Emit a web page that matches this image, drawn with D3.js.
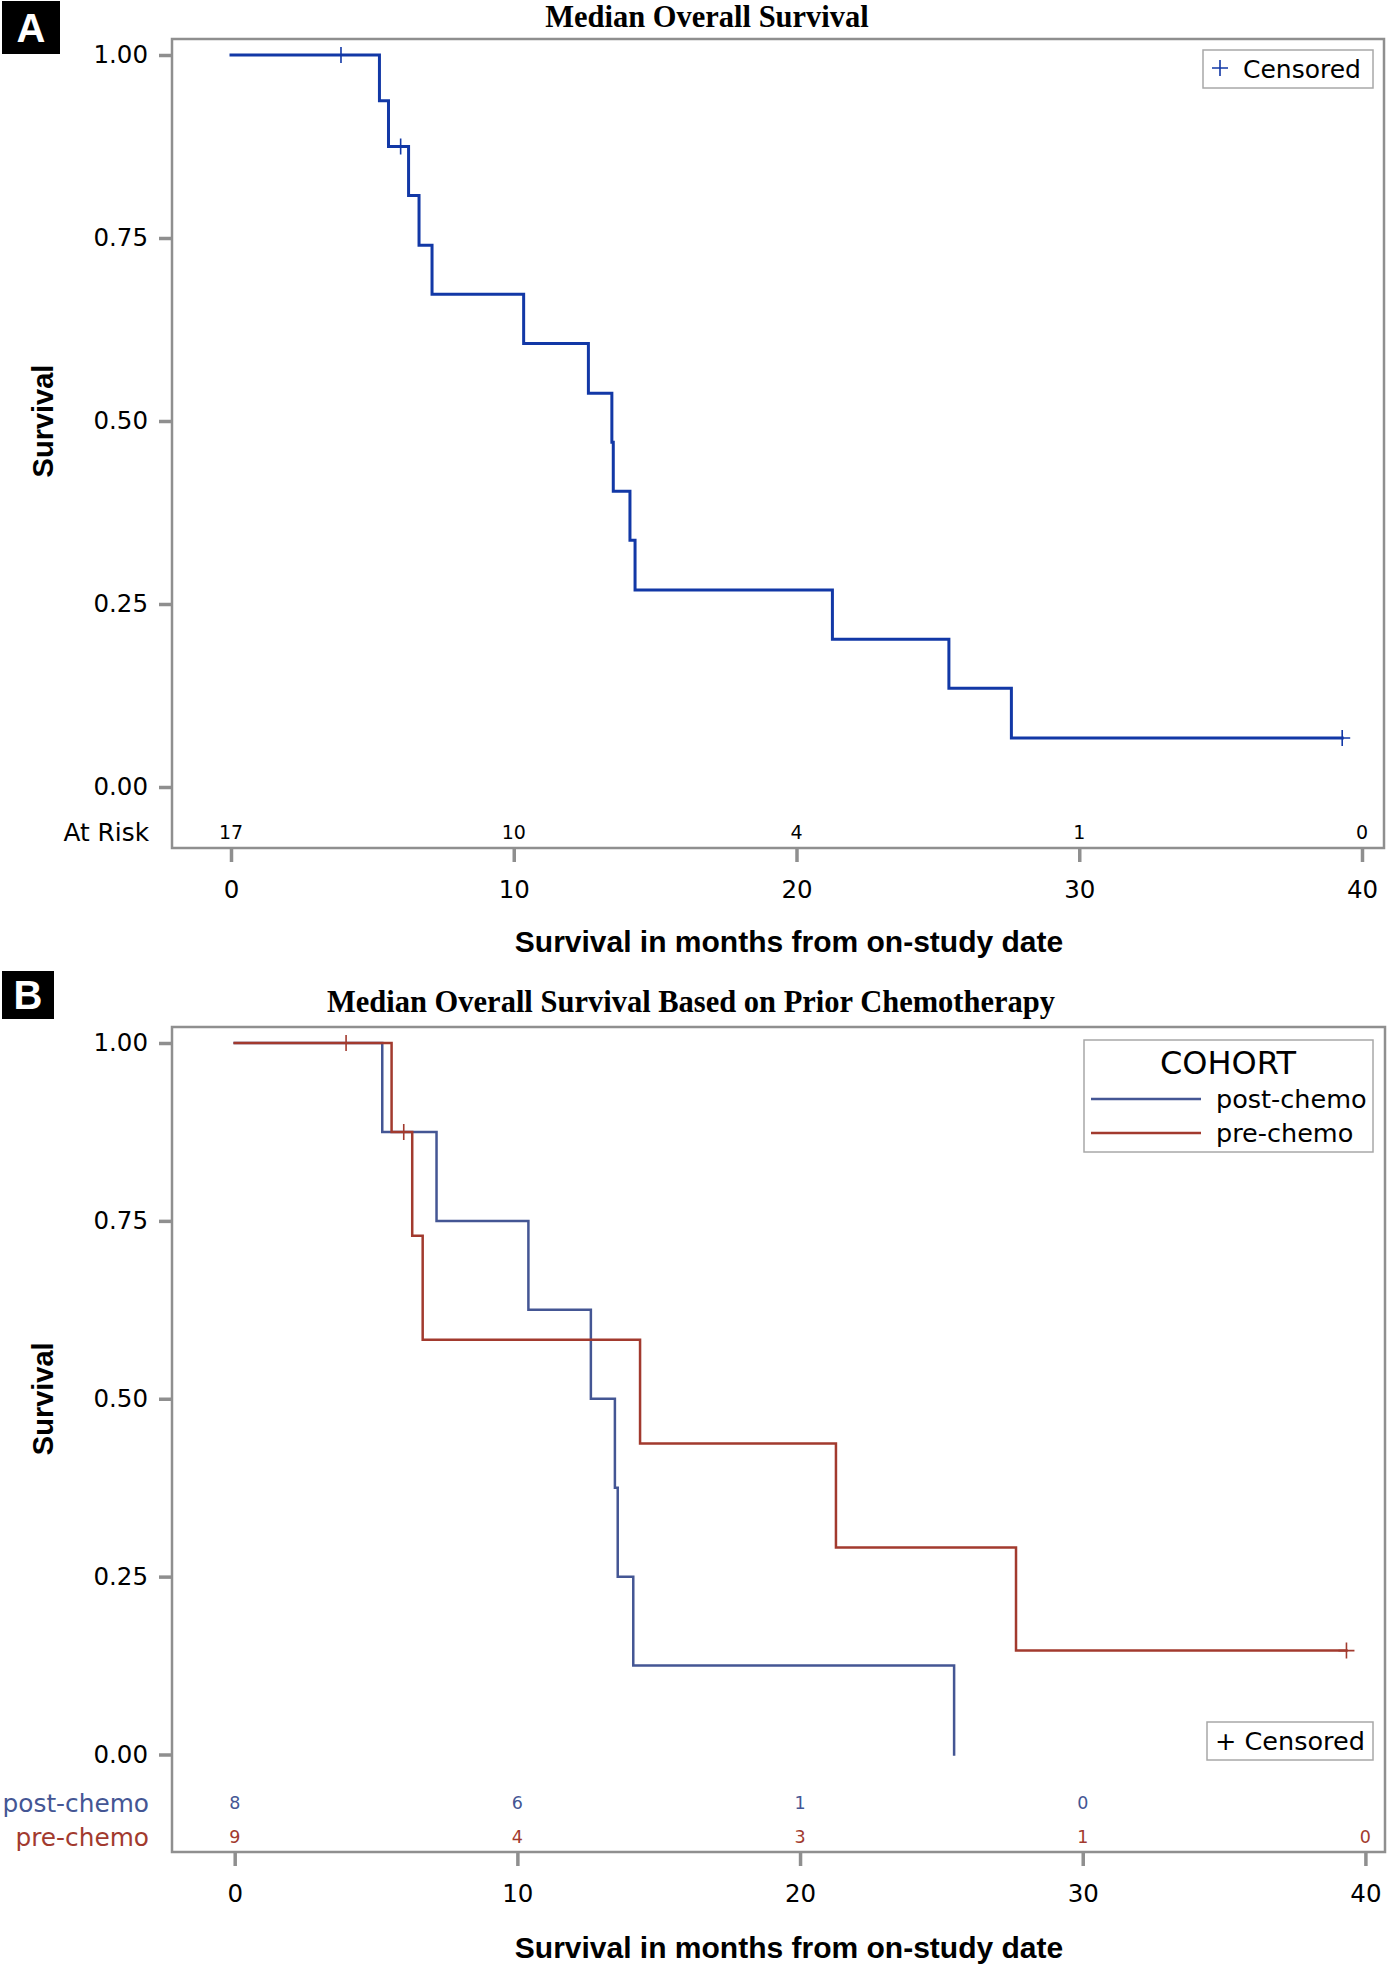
<!DOCTYPE html>
<html>
<head>
<meta charset="utf-8">
<script src="https://cdn.jsdelivr.net/npm/d3@7"></script>
<style>
  html, body { margin: 0; padding: 0; background: #fff; }
  svg { display: block; }
</style>
</head>
<body>
<svg id="chart" width="1388" height="1968"></svg>
<script>
// ---------------- DATA ----------------
const xTicks = [0, 10, 20, 30, 40];
const yTicks = [0, 0.25, 0.5, 0.75, 1.0];
const yTickLabels = ["0.00", "0.25", "0.50", "0.75", "1.00"];

// Panel A: overall
const timesA = [0, 5.25, 5.57, 6.28, 6.65, 7.11, 10.35, 12.64, 13.47, 13.52, 14.11, 14.29, 21.27, 25.39, 27.6];
const survA  = [1, 0.9375, 0.875, 0.808, 0.740, 0.673, 0.606, 0.538, 0.471, 0.404, 0.337, 0.269, 0.202, 0.135, 0.067];
const endA = 39.3;
const censorTimesA = [3.89, 6.0, 39.3];
const censorSurvA  = [1, 0.875, 0.067];
const atRiskA = [17, 10, 4, 1, 0];

// Panel B: by cohort
const cohorts = ["post-chemo", "pre-chemo"];
const timesPost = [0, 5.22, 7.14, 10.39, 12.6, 13.45, 13.55, 14.1, 25.45];
const survPost  = [1, 0.875, 0.75, 0.625, 0.5, 0.375, 0.25, 0.125, 0];
const endPost = 25.45;
const censorTimesPost = [];
const censorSurvPost  = [];
const atRiskPost = [8, 6, 1, 0];

const timesPre = [0, 5.55, 6.28, 6.65, 14.34, 21.27, 27.64];
const survPre  = [1, 0.875, 0.729, 0.583, 0.437, 0.291, 0.146];
const endPre = 39.33;
const censorTimesPre = [3.94, 5.98, 39.33];
const censorSurvPre  = [1, 0.875, 0.146];
const atRiskPre = [9, 4, 3, 1, 0];

// ---------------- STYLE ----------------
const colA = "#1238a6";
const colPost = "#445694";
const colPre = "#a23a2e";
const frameCol = "#8f8f8f";
const sans = "'DejaVu Sans', Verdana, sans-serif";
const arial = "'Liberation Sans', Arial, sans-serif";
const serif = "'Liberation Serif', 'Times New Roman', serif";

const svg = d3.select("#chart");

function panel(opt) {
  const g = svg.append("g");
  const x = d3.scaleLinear().domain([0, 40]).range([opt.x0, opt.x40]);
  const y = d3.scaleLinear().domain([0, 1]).range([opt.y0, opt.y1]);

  // panel letter
  g.append("rect").attr("x", opt.box[0]).attr("y", opt.box[1]).attr("width", opt.box[2]).attr("height", opt.box[3]).attr("fill", "#000");
  g.append("text").attr("x", opt.box[0] + opt.box[2] / 2).attr("y", opt.box[1] + opt.box[3] / 2 + 14)
    .attr("text-anchor", "middle").attr("fill", "#fff").attr("font-family", arial).attr("font-weight", "bold")
    .attr("font-size", 40).text(opt.letter);

  // title
  g.append("text").attr("x", opt.titleX).attr("y", opt.titleY).attr("text-anchor", "middle")
    .attr("font-family", serif).attr("font-weight", "bold").attr("font-size", 30.5).text(opt.title);

  // frame
  g.append("rect").attr("x", opt.fl).attr("y", opt.ft).attr("width", opt.fr - opt.fl).attr("height", opt.fb - opt.ft)
    .attr("fill", "none").attr("stroke", frameCol).attr("stroke-width", 2.5);

  // y axis
  const yAxis = d3.axisLeft(y).tickValues(yTicks).tickFormat((d, i) => yTickLabels[i]).tickSize(13).tickPadding(11);
  const ya = g.append("g").attr("transform", `translate(${opt.fl},0)`).call(yAxis);
  ya.select(".domain").remove();
  ya.selectAll(".tick line").attr("stroke", frameCol).attr("stroke-width", 3.5);
  ya.selectAll(".tick text").attr("font-family", sans).attr("font-size", 24.5).attr("fill", "#000");

  // x axis
  const xAxis = d3.axisBottom(x).tickValues(xTicks).tickSize(14).tickPadding(19);
  const xa = g.append("g").attr("transform", `translate(0,${opt.fb})`).call(xAxis);
  xa.select(".domain").remove();
  xa.selectAll(".tick line").attr("stroke", frameCol).attr("stroke-width", 3.5);
  xa.selectAll(".tick text").attr("font-family", sans).attr("font-size", 24.5).attr("fill", "#000");

  // axis titles
  g.append("text").attr("x", opt.xTitleX).attr("y", opt.xTitleY).attr("text-anchor", "middle")
    .attr("font-family", arial).attr("font-weight", "bold").attr("font-size", 30)
    .text("Survival in months from on-study date");
  g.append("text").attr("transform", `translate(${opt.yTitleX},${(opt.y0 + opt.y1) / 2}) rotate(-90)`)
    .attr("text-anchor", "middle").attr("font-family", arial).attr("font-weight", "bold").attr("font-size", 29)
    .text("Survival");

  // curves
  const line = d3.line().x(d => x(d[0])).y(d => y(d[1])).curve(d3.curveStepAfter);
  opt.series.forEach(s => {
    const pts = s.times.map((t, i) => [t, s.surv[i]]);
    if (s.end > s.times[s.times.length - 1]) pts.push([s.end, s.surv[s.surv.length - 1]]);
    g.append("path").attr("d", line(pts)).attr("fill", "none").attr("stroke", s.color)
      .attr("stroke-width", s.width).attr("stroke-linejoin", "miter").attr("stroke-linecap", "square");
    s.ct.forEach((t, i) => {
      const cx = x(t), cy = y(s.cs[i]);
      g.append("path").attr("d", `M${cx - 8},${cy}H${cx + 8}M${cx},${cy - 8}V${cy + 8}`)
        .attr("stroke", s.color).attr("stroke-width", 1.6).attr("fill", "none");
    });
  });

  // at risk rows
  opt.risk.forEach(r => {
    if (r.label) {
      g.append("text").attr("x", 149).attr("y", r.y).attr("text-anchor", "end").attr("dominant-baseline", "central")
        .attr("font-family", sans).attr("font-size", 24.8).attr("fill", r.labelColor).text(r.label);
    }
    g.selectAll(null).data(r.values).enter().append("text")
      .attr("x", (d, i) => x(xTicks[i])).attr("y", r.y).attr("text-anchor", "middle")
      .attr("dominant-baseline", "central").attr("font-family", sans).attr("font-size", r.size)
      .attr("fill", r.color).text(d => d);
  });
  return { g, x, y };
}

// ---------- Panel A ----------
const pA = panel({
  letter: "A", box: [2, 1, 58, 53],
  title: "Median Overall Survival", titleX: 707, titleY: 27,
  fl: 172, fr: 1384, ft: 39, fb: 848,
  x0: 231, x40: 1362, y0: 787, y1: 55,
  xTitleX: 789, xTitleY: 952, yTitleX: 53,
  series: [{ times: timesA, surv: survA, end: endA, ct: censorTimesA, cs: censorSurvA, color: colA, width: 3 }],
  risk: [{ label: "At Risk", labelColor: "#000", values: atRiskA, y: 832, color: "#000", size: 19 }]
});
// legend A
{
  const g = pA.g;
  g.append("rect").attr("x", 1203).attr("y", 50).attr("width", 170).attr("height", 38)
    .attr("fill", "#fff").attr("stroke", "#a8a8a8").attr("stroke-width", 1.5);
  g.append("path").attr("d", "M1212,68H1228M1220,60V76").attr("stroke", colA).attr("stroke-width", 1.6);
  g.append("text").attr("x", 1243).attr("y", 69).attr("dominant-baseline", "central")
    .attr("font-family", sans).attr("font-size", 25).attr("fill", "#000").text("Censored");
}

// ---------- Panel B ----------
const pB = panel({
  letter: "B", box: [2, 971, 52, 48],
  title: "Median Overall Survival Based on Prior Chemotherapy", titleX: 691, titleY: 1012,
  fl: 172, fr: 1385, ft: 1027, fb: 1852,
  x0: 234.7, x40: 1365.4, y0: 1754.5, y1: 1043,
  xTitleX: 789, xTitleY: 1958, yTitleX: 53,
  series: [
    { times: timesPost, surv: survPost, end: endPost, ct: censorTimesPost, cs: censorSurvPost, color: colPost, width: 2.5 },
    { times: timesPre, surv: survPre, end: endPre, ct: censorTimesPre, cs: censorSurvPre, color: colPre, width: 2.5 }
  ],
  risk: [
    { label: cohorts[0], labelColor: colPost, values: atRiskPost, y: 1803, color: colPost, size: 17.5 },
    { label: cohorts[1], labelColor: colPre, values: atRiskPre, y: 1837, color: colPre, size: 17.5 }
  ]
});
// legend B
{
  const g = pB.g;
  g.append("rect").attr("x", 1084).attr("y", 1040).attr("width", 289).attr("height", 112)
    .attr("fill", "#fff").attr("stroke", "#a8a8a8").attr("stroke-width", 1.5);
  g.append("text").attr("x", 1228).attr("y", 1074).attr("text-anchor", "middle")
    .attr("font-family", sans).attr("font-size", 32).attr("fill", "#000").text("COHORT");
  [[cohorts[0], colPost, 1099], [cohorts[1], colPre, 1133]].forEach(([lab, c, yy]) => {
    g.append("line").attr("x1", 1091).attr("x2", 1201).attr("y1", yy).attr("y2", yy)
      .attr("stroke", c).attr("stroke-width", 2.5);
    g.append("text").attr("x", 1216).attr("y", yy).attr("dominant-baseline", "central")
      .attr("font-family", sans).attr("font-size", 25.5).attr("fill", "#000").text(lab);
  });
  g.append("rect").attr("x", 1207).attr("y", 1722).attr("width", 166).attr("height", 38)
    .attr("fill", "#fff").attr("stroke", "#a8a8a8").attr("stroke-width", 1.5);
  g.append("text").attr("x", 1215).attr("y", 1741).attr("dominant-baseline", "central")
    .attr("font-family", sans).attr("font-size", 25.5).attr("fill", "#000").text("+ Censored");
}
</script>
</body>
</html>
